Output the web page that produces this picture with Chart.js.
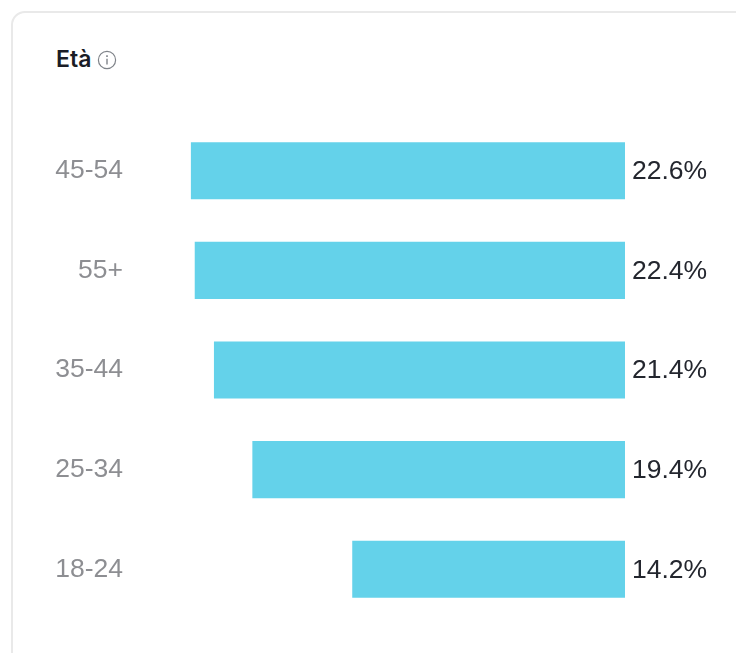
<!DOCTYPE html>
<html>
<head>
<meta charset="utf-8">
<title>Età</title>
<script src="https://cdn.jsdelivr.net/npm/chart.js@4"></script>
<style>
  html, body { margin: 0; width: 736px; height: 653px; overflow: hidden; background: #fff; }
  #card {
    position: absolute; left: 11px; top: 11px; width: 760px; height: 700px;
    border: 2px solid #e9e9e9; border-radius: 14px; box-sizing: border-box;
  }
  #title {
    position: absolute; left: 56px; top: 45px;
    font: 600 23px/28px Inter, sans-serif; color: #1a1d26;
  }
  #info { position: absolute; left: 97px; top: 50px; }
  #wrap { position: absolute; left: 0; top: 0; width: 736px; height: 653px; }
</style>
</head>
<body>
<div id="card"></div>
<div id="title">Età</div>
<svg id="info" width="20" height="20" viewBox="0 0 20 20" fill="none" stroke="#7f8389">
  <circle cx="10" cy="10" r="8.6" stroke-width="1.2"/>
  <line x1="10" y1="8.8" x2="10" y2="14.6" stroke-width="1.4"/>
  <line x1="10" y1="5.2" x2="10" y2="6.9" stroke-width="1.6"/>
</svg>
<div id="wrap"><canvas id="ageChart"></canvas></div>
<script>
const categories = ['45-54', '55+', '35-44', '25-34', '18-24'];
const shares = [22.6, 22.4, 21.4, 19.4, 14.2];

// percentages next to the bar ends
const valueLabels = {
  id: 'valueLabels',
  afterDatasetsDraw(chart) {
    const { ctx, chartArea } = chart;
    const meta = chart.getDatasetMeta(0);
    ctx.save();
    ctx.font = '26.5px "Liberation Sans"';
    ctx.fillStyle = '#23262e';
    ctx.textAlign = 'left';
    ctx.textBaseline = 'middle';
    meta.data.forEach((bar, i) => {
      ctx.fillText(shares[i].toFixed(1) + '%', chartArea.right + 7, bar.y + 1);
    });
    ctx.restore();
  }
};

new Chart(document.getElementById('ageChart'), {
  type: 'bar',
  data: {
    labels: categories,
    datasets: [{
      data: shares,
      backgroundColor: '#64d2ea',
      categoryPercentage: 1,
      barPercentage: 0.573
    }]
  },
  options: {
    indexAxis: 'y',
    responsive: true,
    maintainAspectRatio: false,
    animation: false,
    layout: { padding: { top: 121, bottom: 34, left: 0, right: 111 } },
    plugins: { legend: { display: false }, tooltip: { enabled: false } },
    scales: {
      x: { reverse: true, min: 0, max: 24, display: false },
      y: {
        grid: { display: false, drawTicks: false },
        border: { display: false },
        afterFit(scale) {
          scale.width = 164;
          // tick padding would otherwise eat into the plot height
          scale.paddingTop = 0;
          scale.paddingBottom = 0;
        },
        ticks: {
          padding: 41,
          color: '#8d8e92',
          font: { family: '"Liberation Sans"', size: 26.5 }
        }
      }
    }
  },
  plugins: [valueLabels]
});
</script>
</body>
</html>
